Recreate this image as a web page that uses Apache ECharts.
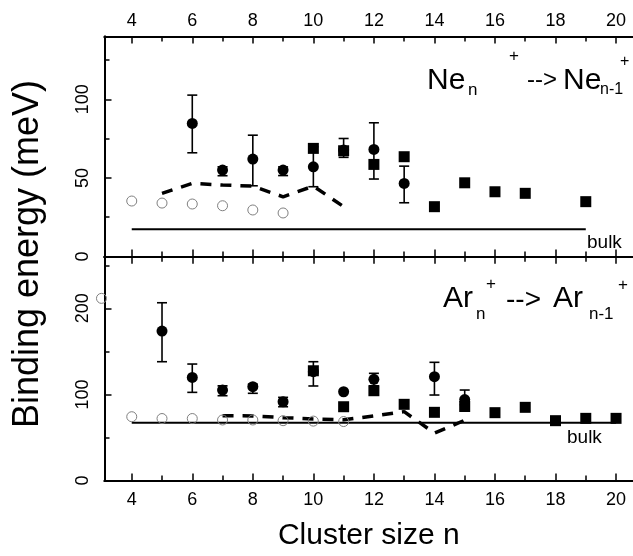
<!DOCTYPE html>
<html>
<head>
<meta charset="utf-8">
<script src="https://cdn.jsdelivr.net/npm/echarts@6/dist/echarts.min.js"></script>
<style>
html,body{margin:0;padding:0;background:#fff;}
#chart{width:633px;height:556px;}
</style>
</head>
<body>
<div id="chart"></div>
<script>
// ---- tick values ----
const xMajor = [4, 6, 8, 10, 12, 14, 16, 18, 20];
const xMinor = [5, 7, 9, 11, 13, 15, 17, 19];
const neYMajor = [0, 50, 100];
const neYMinor = [25, 75, 125];
const arYMajor = [0, 100, 200];
const arYMinor = [50, 150, 250];

// ---- Ne panel data ----
const neOpen = [[4, 35.3], [5, 34.0], [6, 33.4], [7, 32.3], [8, 29.6], [9, 27.7]];
const neCircle = [[6, 84.7], [7, 55.0], [8, 62.0], [9, 55.0], [10, 57.1], [11, 67.7], [12, 68.1], [13, 46.5]];
const neErr = [[6, 66.0, 102.7], [7, 51.4, 57.1], [8, 45.0, 77.2], [9, 51.5, 57.0], [10, 44.4, 69.8], [11, 63.1, 75.1], [12, 49.3, 85.1], [13, 34.2, 57.5]];
const neSquare = [[10, 68.8], [11, 67.3], [12, 58.6], [13, 63.5], [14, 31.7], [15, 46.9], [16, 41.2], [17, 40.2], [19, 34.9]];
const neTheory = [[5, 40.2], [6, 46.5], [7, 45.5], [8, 44.8], [9, 38.0], [10, 44.8], [11, 31.7]];
const neBulk = [[4, 17.3], [19, 17.3]];

// ---- Ar panel data ----
const arOpenOut = [[3, 211.6]];
const arOpen = [[4, 74.1], [5, 72.0], [6, 72.0], [7, 70.3], [8, 70.3], [9, 69.5], [10, 69.0], [11, 68.5]];
const arCircle = [[5, 173.6], [6, 119.8], [7, 105.1], [8, 109.0], [9, 91.5], [10, 126.4], [11, 103.1], [12, 117.5], [14, 120.6], [15, 94.0]];
const arErr = [[5, 138.0, 206.5], [6, 102.4, 135.3], [7, 98.5, 110.0], [8, 101.3, 112.0], [9, 85.7, 96.6], [10, 109.8, 138.0], [12, 110.0, 124.5], [14, 99.3, 137.3], [15, 88.0, 105.1]];
const arSquare = [[10, 127.5], [11, 85.7], [12, 104.3], [13, 88.5], [14, 79.2], [15, 86.0], [16, 78.8], [17, 85.0], [18, 69.5], [19, 72.2], [20, 72.2]];
const arTheory = [[7, 75.3], [8, 75.0], [9, 73.0], [10, 71.5], [11, 70.5], [12, 75.0], [13, 80.0], [14, 55.0], [15, 70.0]];
const arBulk = [[4, 67.2], [20, 67.2]];

const FONT = '"Liberation Sans", Arial, Helvetica, sans-serif';
const xMin = 3.1, xMax = 20.56;

function xAx(grid, pos, ticks, len, labels, margin) {
  return {
    type: 'value', gridIndex: grid, position: pos, min: xMin, max: xMax,
    axisLine: { show: true, onZero: false, lineStyle: { color: '#000', width: 2 } },
    axisTick: { show: true, inside: true, length: len, customValues: ticks, lineStyle: { color: '#000', width: 1.5 } },
    axisLabel: labels ? { show: true, customValues: labels, fontSize: 18, color: '#000', margin: margin, fontFamily: FONT } : { show: false },
    splitLine: { show: false }
  };
}
function yAx(grid, max, ticks, len, labels) {
  return {
    type: 'value', gridIndex: grid, min: 0, max: max, position: 'left',
    axisLine: { show: true, onZero: false, lineStyle: { color: '#000', width: 2 } },
    axisTick: { show: true, inside: true, length: len, customValues: ticks, lineStyle: { color: '#000', width: 1.5 } },
    axisLabel: labels ? { show: true, customValues: labels, fontSize: 18, color: '#000', rotate: 90, margin: 12, fontFamily: FONT } : { show: false },
    splitLine: { show: false }
  };
}

function errRender(params, api) {
  const x = api.value(0), lo = api.value(1), hi = api.value(2);
  const p1 = api.coord([x, lo]), p2 = api.coord([x, hi]);
  const w = 5;
  const st = { stroke: '#000', lineWidth: 1.6 };
  return {
    type: 'group', children: [
      { type: 'line', shape: { x1: p1[0], y1: p1[1], x2: p2[0], y2: p2[1] }, style: st },
      { type: 'line', shape: { x1: p1[0] - w, y1: p1[1], x2: p1[0] + w, y2: p1[1] }, style: st },
      { type: 'line', shape: { x1: p2[0] - w, y1: p2[1], x2: p2[0] + w, y2: p2[1] }, style: st }
    ]
  };
}

function panelSeries(xi, yi, d) {
  return [
    { type: 'line', xAxisIndex: xi, yAxisIndex: yi, data: d.bulk, symbol: 'none', lineStyle: { color: '#000', width: 2 }, z: 2, silent: true },
    { type: 'line', xAxisIndex: xi, yAxisIndex: yi, data: d.theory, symbol: 'none', lineStyle: { color: '#000', width: 3.5, type: [11, 9], cap: 'butt' }, z: 3, silent: true },
    { type: 'scatter', xAxisIndex: xi, yAxisIndex: yi, data: d.open, symbol: 'circle', symbolSize: 10, itemStyle: { color: 'rgba(255,255,255,0)', borderColor: '#808080', borderWidth: 1, opacity: 1 }, z: 4 },
    { type: 'custom', xAxisIndex: xi, yAxisIndex: yi, data: d.err, renderItem: errRender, encode: { x: 0, y: [1, 2] }, z: 5 },
    { type: 'scatter', xAxisIndex: xi, yAxisIndex: yi, data: d.square, symbol: 'rect', symbolSize: 11, itemStyle: { color: '#000', opacity: 1 }, z: 6 },
    { type: 'scatter', xAxisIndex: xi, yAxisIndex: yi, data: d.circle, symbol: 'circle', symbolSize: 11, itemStyle: { color: '#000', opacity: 1 }, z: 7 }
  ];
}

const series = [].concat(
  panelSeries(0, 0, { bulk: neBulk, theory: neTheory, open: neOpen, err: neErr, square: neSquare, circle: neCircle }),
  panelSeries(4, 2, { bulk: arBulk, theory: arTheory, open: arOpen, err: arErr, square: arSquare, circle: arCircle }),
  [{ type: 'scatter', xAxisIndex: 4, yAxisIndex: 2, data: arOpenOut, symbol: 'circle', symbolSize: 10, clip: false, itemStyle: { color: 'rgba(255,255,255,0)', borderColor: '#808080', borderWidth: 1, opacity: 1 }, z: 4 }]
);

function txt(x, y, s, size, align) {
  return { type: 'text', x: x, y: y, style: { text: s, fontSize: size, fontFamily: FONT, fill: '#000', align: align || 'left', verticalAlign: 'middle' } };
}

const option = {
  animation: false,
  backgroundColor: '#fff',
  grid: [
    { left: 104.5, top: 36.5, width: 528.5, height: 220 },
    { left: 104.5, top: 256.7, width: 528.5, height: 223.8 }
  ],
  xAxis: [
    xAx(0, 'bottom', xMajor, 7, null),
    xAx(0, 'bottom', xMinor, 5, null),
    xAx(0, 'top', xMajor, 7, xMajor, 6),
    xAx(0, 'top', xMinor, 5, null),
    Object.assign(xAx(1, 'bottom', xMajor, 7, xMajor, 11), {
      name: 'Cluster size n', nameLocation: 'middle', nameGap: 40,
      nameTextStyle: { fontSize: 30, fontFamily: FONT, color: '#000' }
    }),
    xAx(1, 'bottom', xMinor, 5, null),
    xAx(1, 'top', xMajor, 7, null),
    xAx(1, 'top', xMinor, 5, null)
  ],
  yAxis: [
    yAx(0, 140, neYMajor, 7, neYMajor),
    yAx(0, 140, neYMinor, 5, null),
    yAx(1, 260, arYMajor, 7, arYMajor),
    yAx(1, 260, arYMinor, 5, null)
  ],
  series: series,
  graphic: [
    { type: 'text', x: 28, y: 254, rotation: Math.PI / 2, style: { text: 'Binding energy (meV)', fontSize: 36, fontFamily: FONT, fill: '#000', align: 'center', verticalAlign: 'middle' } },
    // Ne annotation
    txt(427, 81, 'Ne', 30), txt(468, 90, 'n', 17), txt(509, 56, '+', 17),
    txt(527, 80, '-->', 24), txt(563, 81, 'Ne', 30), txt(600, 90, 'n-1', 16), txt(620, 62, '+', 16),
    txt(587, 243, 'bulk', 19),
    // Ar annotation
    txt(443, 298.5, 'Ar', 30), txt(476, 314, 'n', 17), txt(486, 284, '+', 17),
    txt(506, 300, '-->', 28), txt(553, 298.5, 'Ar', 30), txt(589, 314, 'n-1', 17), txt(618, 285, '+', 17),
    txt(567, 438, 'bulk', 19)
  ]
};

const chart = echarts.init(document.getElementById('chart'), null, { renderer: 'canvas' });
chart.setOption(option);
</script>
</body>
</html>
